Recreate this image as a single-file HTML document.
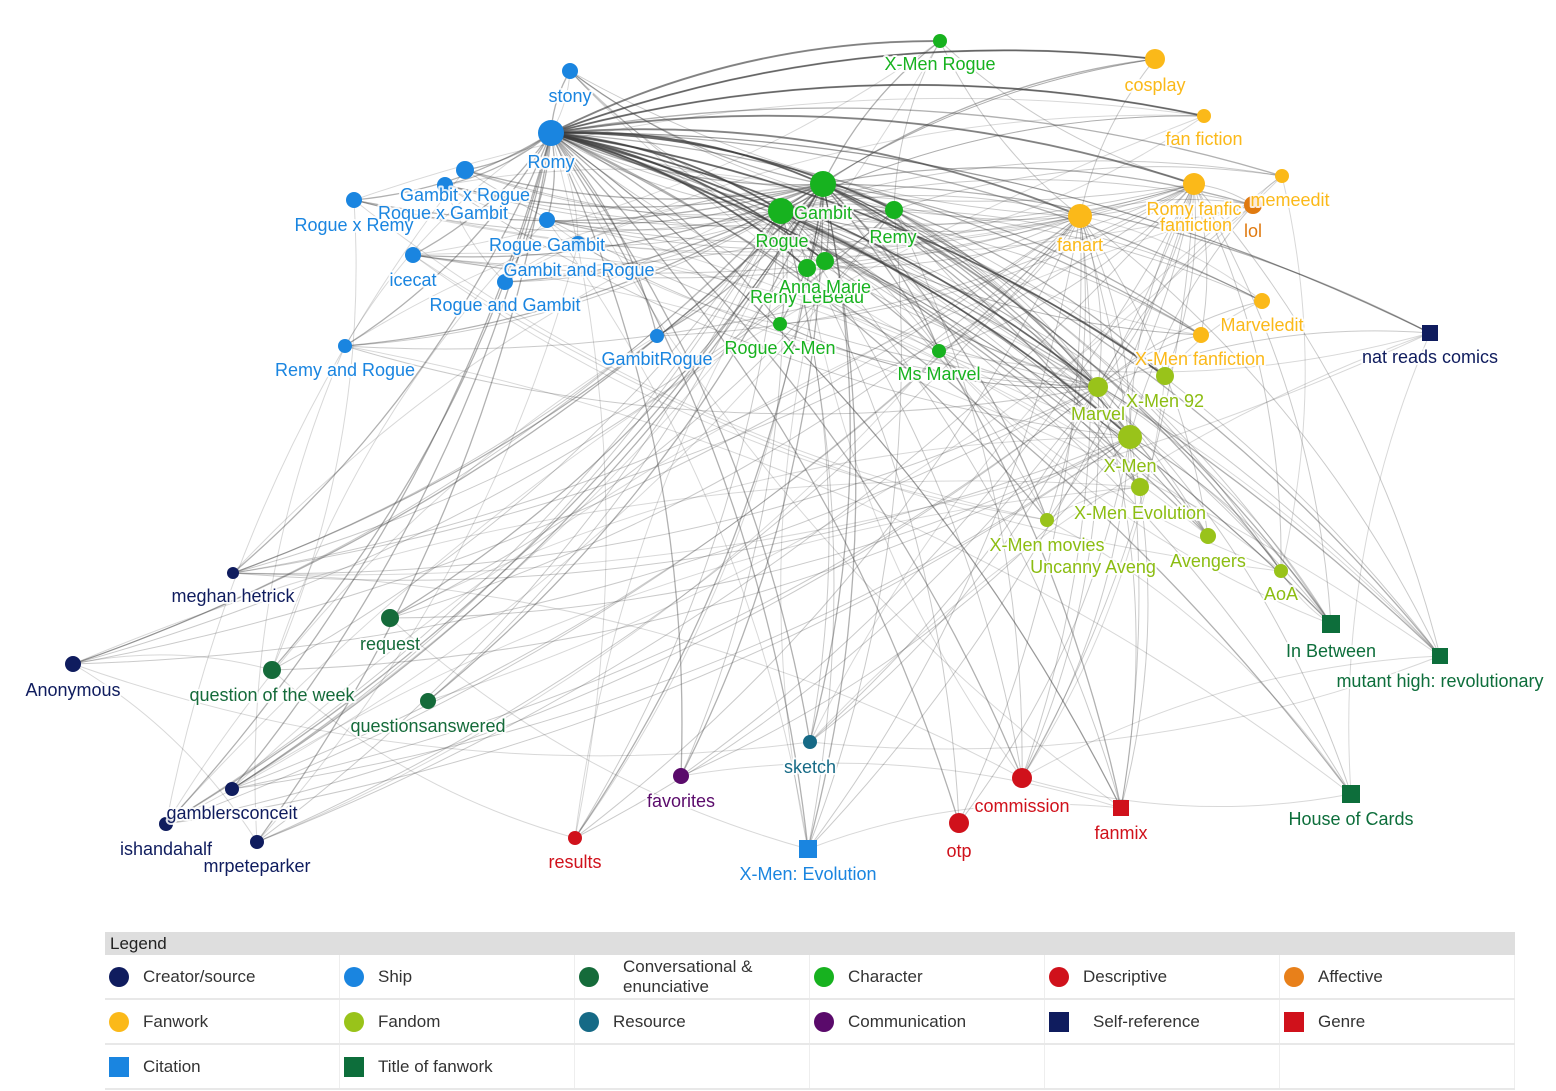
<!DOCTYPE html>
<html><head><meta charset="utf-8"><style>
html,body{margin:0;padding:0;background:#fff;width:1556px;height:1091px;overflow:hidden;font-family:"Liberation Sans",sans-serif}
svg{position:absolute;left:0;top:0}
.l{font-size:18px;text-anchor:middle;paint-order:stroke;stroke:rgba(255,255,255,0.85);stroke-width:4px;stroke-linejoin:round}
#leg{position:absolute;left:105px;top:932px;width:1410px}
#leg .h{background:#dedede;height:23px;font-size:17px;line-height:23px;padding-left:5px;color:#222}
.row{display:flex;height:43px;border-bottom:2px solid #e8e8e8}
.c{width:235px;display:flex;align-items:center;font-size:17px;color:#333;border-right:1px solid #eee}
.c i{display:inline-block;width:20px;height:20px;border-radius:50%;margin:0 14px 0 4px;flex:none}
.c i.s{border-radius:0}
</style></head><body>
<svg id="g" width="1556" height="930" xmlns="http://www.w3.org/2000/svg">
<g id="edges" fill="none"></g>
<g id="nodes"></g>
<g id="labels">
<text class="l" x="570" y="102" fill="#1a85e0">stony</text>
<text class="l" x="551" y="168" fill="#1a85e0">Romy</text>
<text class="l" x="443" y="219" fill="#1a85e0">Rogue x Gambit</text>
<text class="l" x="465" y="201" fill="#1a85e0">Gambit x Rogue</text>
<text class="l" x="354" y="231" fill="#1a85e0">Rogue x Remy</text>
<text class="l" x="413" y="286" fill="#1a85e0">icecat</text>
<text class="l" x="547" y="251" fill="#1a85e0">Rogue Gambit</text>
<text class="l" x="579" y="276" fill="#1a85e0">Gambit and Rogue</text>
<text class="l" x="505" y="311" fill="#1a85e0">Rogue and Gambit</text>
<text class="l" x="345" y="376" fill="#1a85e0">Remy and Rogue</text>
<text class="l" x="657" y="365" fill="#1a85e0">GambitRogue</text>
<text class="l" x="940" y="70" fill="#17b21f">X-Men Rogue</text>
<text class="l" x="823" y="219" fill="#17b21f">Gambit</text>
<text class="l" x="782" y="247" fill="#17b21f">Rogue</text>
<text class="l" x="893" y="243" fill="#17b21f">Remy</text>
<text class="l" x="807" y="303" fill="#17b21f">Remy LeBeau</text>
<text class="l" x="825" y="293" fill="#17b21f">Anna Marie</text>
<text class="l" x="780" y="354" fill="#17b21f">Rogue X-Men</text>
<text class="l" x="939" y="380" fill="#17b21f">Ms Marvel</text>
<text class="l" x="1155" y="91" fill="#fbb919">cosplay</text>
<text class="l" x="1204" y="145" fill="#fbb919">fan fiction</text>
<text class="l" x="1290" y="206" fill="#fbb919">memeedit</text>
<text class="l" x="1196" y="231" fill="#fbb919">fanfiction</text>
<text class="l" x="1194" y="215" fill="#fbb919">Romy fanfic</text>
<text class="l" x="1253" y="237" fill="#e07a10">lol</text>
<text class="l" x="1080" y="251" fill="#fbb919">fanart</text>
<text class="l" x="1262" y="331" fill="#fbb919">Marveledit</text>
<text class="l" x="1200" y="365" fill="#fbb919">X-Men fanfiction</text>
<text class="l" x="1430" y="363" fill="#0f1c5e">nat reads comics</text>
<text class="l" x="1098" y="420" fill="#8cbd12">Marvel</text>
<text class="l" x="1165" y="407" fill="#8cbd12">X-Men 92</text>
<text class="l" x="1130" y="472" fill="#8cbd12">X-Men</text>
<text class="l" x="1140" y="519" fill="#8cbd12">X-Men Evolution</text>
<text class="l" x="1047" y="551" fill="#8cbd12">X-Men movies</text>
<text class="l" x="1093" y="573" fill="#8cbd12">Uncanny Aveng</text>
<text class="l" x="1208" y="567" fill="#8cbd12">Avengers</text>
<text class="l" x="1281" y="600" fill="#8cbd12">AoA</text>
<text class="l" x="1331" y="657" fill="#0d6e3b">In Between</text>
<text class="l" x="1440" y="687" fill="#0d6e3b">mutant high: revolutionary</text>
<text class="l" x="1351" y="825" fill="#0d6e3b">House of Cards</text>
<text class="l" x="233" y="602" fill="#0f1c5e">meghan hetrick</text>
<text class="l" x="73" y="696" fill="#0f1c5e">Anonymous</text>
<text class="l" x="232" y="819" fill="#0f1c5e">gamblersconceit</text>
<text class="l" x="166" y="855" fill="#0f1c5e">ishandahalf</text>
<text class="l" x="257" y="872" fill="#0f1c5e">mrpeteparker</text>
<text class="l" x="390" y="650" fill="#156b3a">request</text>
<text class="l" x="272" y="701" fill="#156b3a">question of the week</text>
<text class="l" x="428" y="732" fill="#156b3a">questionsanswered</text>
<text class="l" x="810" y="773" fill="#166a86">sketch</text>
<text class="l" x="681" y="807" fill="#5a0a6b">favorites</text>
<text class="l" x="1022" y="812" fill="#d0111b">commission</text>
<text class="l" x="959" y="857" fill="#d0111b">otp</text>
<text class="l" x="575" y="868" fill="#d0111b">results</text>
<text class="l" x="1121" y="839" fill="#d0111b">fanmix</text>
<text class="l" x="808" y="880" fill="#1a85e0">X-Men: Evolution</text>
</g>
</svg>
<div id="leg">
<div class="h">Legend</div>
<div class="row">
<div class="c"><i style="background:#0f1c5e"></i>Creator/source</div>
<div class="c"><i style="background:#1a85e0"></i>Ship</div>
<div class="c"><i style="background:#156b3a"></i><span style="padding-left:10px">Conversational &amp;<br>enunciative</span></div>
<div class="c"><i style="background:#17b21f"></i>Character</div>
<div class="c"><i style="background:#d0111b"></i>Descriptive</div>
<div class="c"><i style="background:#e8801a"></i>Affective</div>
</div>
<div class="row">
<div class="c"><i style="background:#fbb919"></i>Fanwork</div>
<div class="c"><i style="background:#99c31a"></i>Fandom</div>
<div class="c"><i style="background:#166a86"></i>Resource</div>
<div class="c"><i style="background:#5a0a6b"></i>Communication</div>
<div class="c"><i class="s" style="background:#0f1c5e"></i><span style="padding-left:10px">Self-reference</span></div>
<div class="c"><i class="s" style="background:#d0111b"></i>Genre</div>
</div>
<div class="row">
<div class="c"><i class="s" style="background:#1a85e0"></i>Citation</div>
<div class="c"><i class="s" style="background:#0d6e3b"></i>Title of fanwork</div>
<div class="c"></div><div class="c"></div><div class="c"></div><div class="c"></div>
</div>
</div>
<script>
var N={
Romy:[551,133,13,'#1a85e0'],stony:[570,71,8,'#1a85e0'],GxR:[465,170,9,'#1a85e0'],RxG:[445,185,8,'#1a85e0'],RxR:[354,200,8,'#1a85e0'],icecat:[413,255,8,'#1a85e0'],RG:[547,220,8,'#1a85e0'],GaR:[578,244,8,'#1a85e0'],RaG:[505,282,8,'#1a85e0'],RaR:[345,346,7,'#1a85e0'],GR:[657,336,7,'#1a85e0'],
XR:[940,41,7,'#17b21f'],Gambit:[823,184,13,'#17b21f'],Rogue:[781,211,13,'#17b21f'],Remy:[894,210,9,'#17b21f'],AM:[825,261,9,'#17b21f'],RL:[807,268,9,'#17b21f'],RX:[780,324,7,'#17b21f'],MM:[939,351,7,'#17b21f'],
cos:[1155,59,10,'#fbb919'],ff:[1204,116,7,'#fbb919'],meme:[1282,176,7,'#fbb919'],Rf:[1194,184,11,'#fbb919'],fan:[1080,216,12,'#fbb919'],Me:[1262,301,8,'#fbb919'],XF:[1201,335,8,'#fbb919'],lol:[1253,205,9,'#e07a10'],
Marvel:[1098,387,10,'#99c31a'],X92:[1165,376,9,'#99c31a'],XMen:[1130,437,12,'#99c31a'],XE:[1140,487,9,'#99c31a'],XM:[1047,520,7,'#99c31a'],Av:[1208,536,8,'#99c31a'],AoA:[1281,571,7,'#99c31a'],
IB:[1331,624,-9,'#0d6e3b'],MH:[1440,656,-8,'#0d6e3b'],HC:[1351,794,-9,'#0d6e3b'],NR:[1430,333,-8,'#0f1c5e'],
mh:[233,573,6,'#0f1c5e'],An:[73,664,8,'#0f1c5e'],gc:[232,789,7,'#0f1c5e'],ish:[166,824,7,'#0f1c5e'],mp:[257,842,7,'#0f1c5e'],
req:[390,618,9,'#156b3a'],qw:[272,670,9,'#156b3a'],qa:[428,701,8,'#156b3a'],sk:[810,742,7,'#166a86'],fav:[681,776,8,'#5a0a6b'],
com:[1022,778,10,'#d0111b'],otp:[959,823,10,'#d0111b'],res:[575,838,7,'#d0111b'],fm:[1121,808,-8,'#d0111b'],XEv:[808,849,-9,'#1a85e0']};
var keys=Object.keys(N),E=document.getElementById('edges'),ns='http://www.w3.org/2000/svg',s=7;
function rnd(){s=(s*9301+49297)%233280;return s/233280;}
function edge(a,b,w,o){var A=N[a],B=N[b];if(!A||!B||a==b)return;var mx=(A[0]+B[0])/2,my=(A[1]+B[1])/2,dx=B[0]-A[0],dy=B[1]-A[1],k=0.12;
var p=document.createElementNS(ns,'path');p.setAttribute('d','M'+A[0]+' '+A[1]+'Q'+(mx-dy*k)+' '+(my+dx*k)+' '+B[0]+' '+B[1]);p.setAttribute('stroke','rgba(60,60,60,'+o+')');p.setAttribute('stroke-width',w);E.appendChild(p);}
var hubs=['Romy','Gambit','Rogue','XMen','Rf','Marvel','fan','Remy'];
hubs.forEach(function(h,i){keys.forEach(function(k){if(rnd()<(i<3?0.75:0.4))edge(k,h,i<2?1.3:1,i<2?0.4:0.27);});});
for(var i=0;i<90;i++){edge(keys[Math.floor(rnd()*keys.length)],keys[Math.floor(rnd()*keys.length)],1,0.2);}
['Gambit','Rogue','Remy','AM','RL','fan','Rf','cos','ff','XR','X92','Marvel','XMen'].forEach(function(k){edge(k,'Romy',2,0.45);edge(k,'Romy',1.5,0.35);});
var G=document.getElementById('nodes');
keys.forEach(function(k){var n=N[k],e;if(n[2]<0){var r=-n[2];e=document.createElementNS(ns,'rect');e.setAttribute('x',n[0]-r);e.setAttribute('y',n[1]-r);e.setAttribute('width',2*r);e.setAttribute('height',2*r);}else{e=document.createElementNS(ns,'circle');e.setAttribute('cx',n[0]);e.setAttribute('cy',n[1]);e.setAttribute('r',n[2]);}e.setAttribute('fill',n[3]);G.appendChild(e);});
</script>
</body></html>
